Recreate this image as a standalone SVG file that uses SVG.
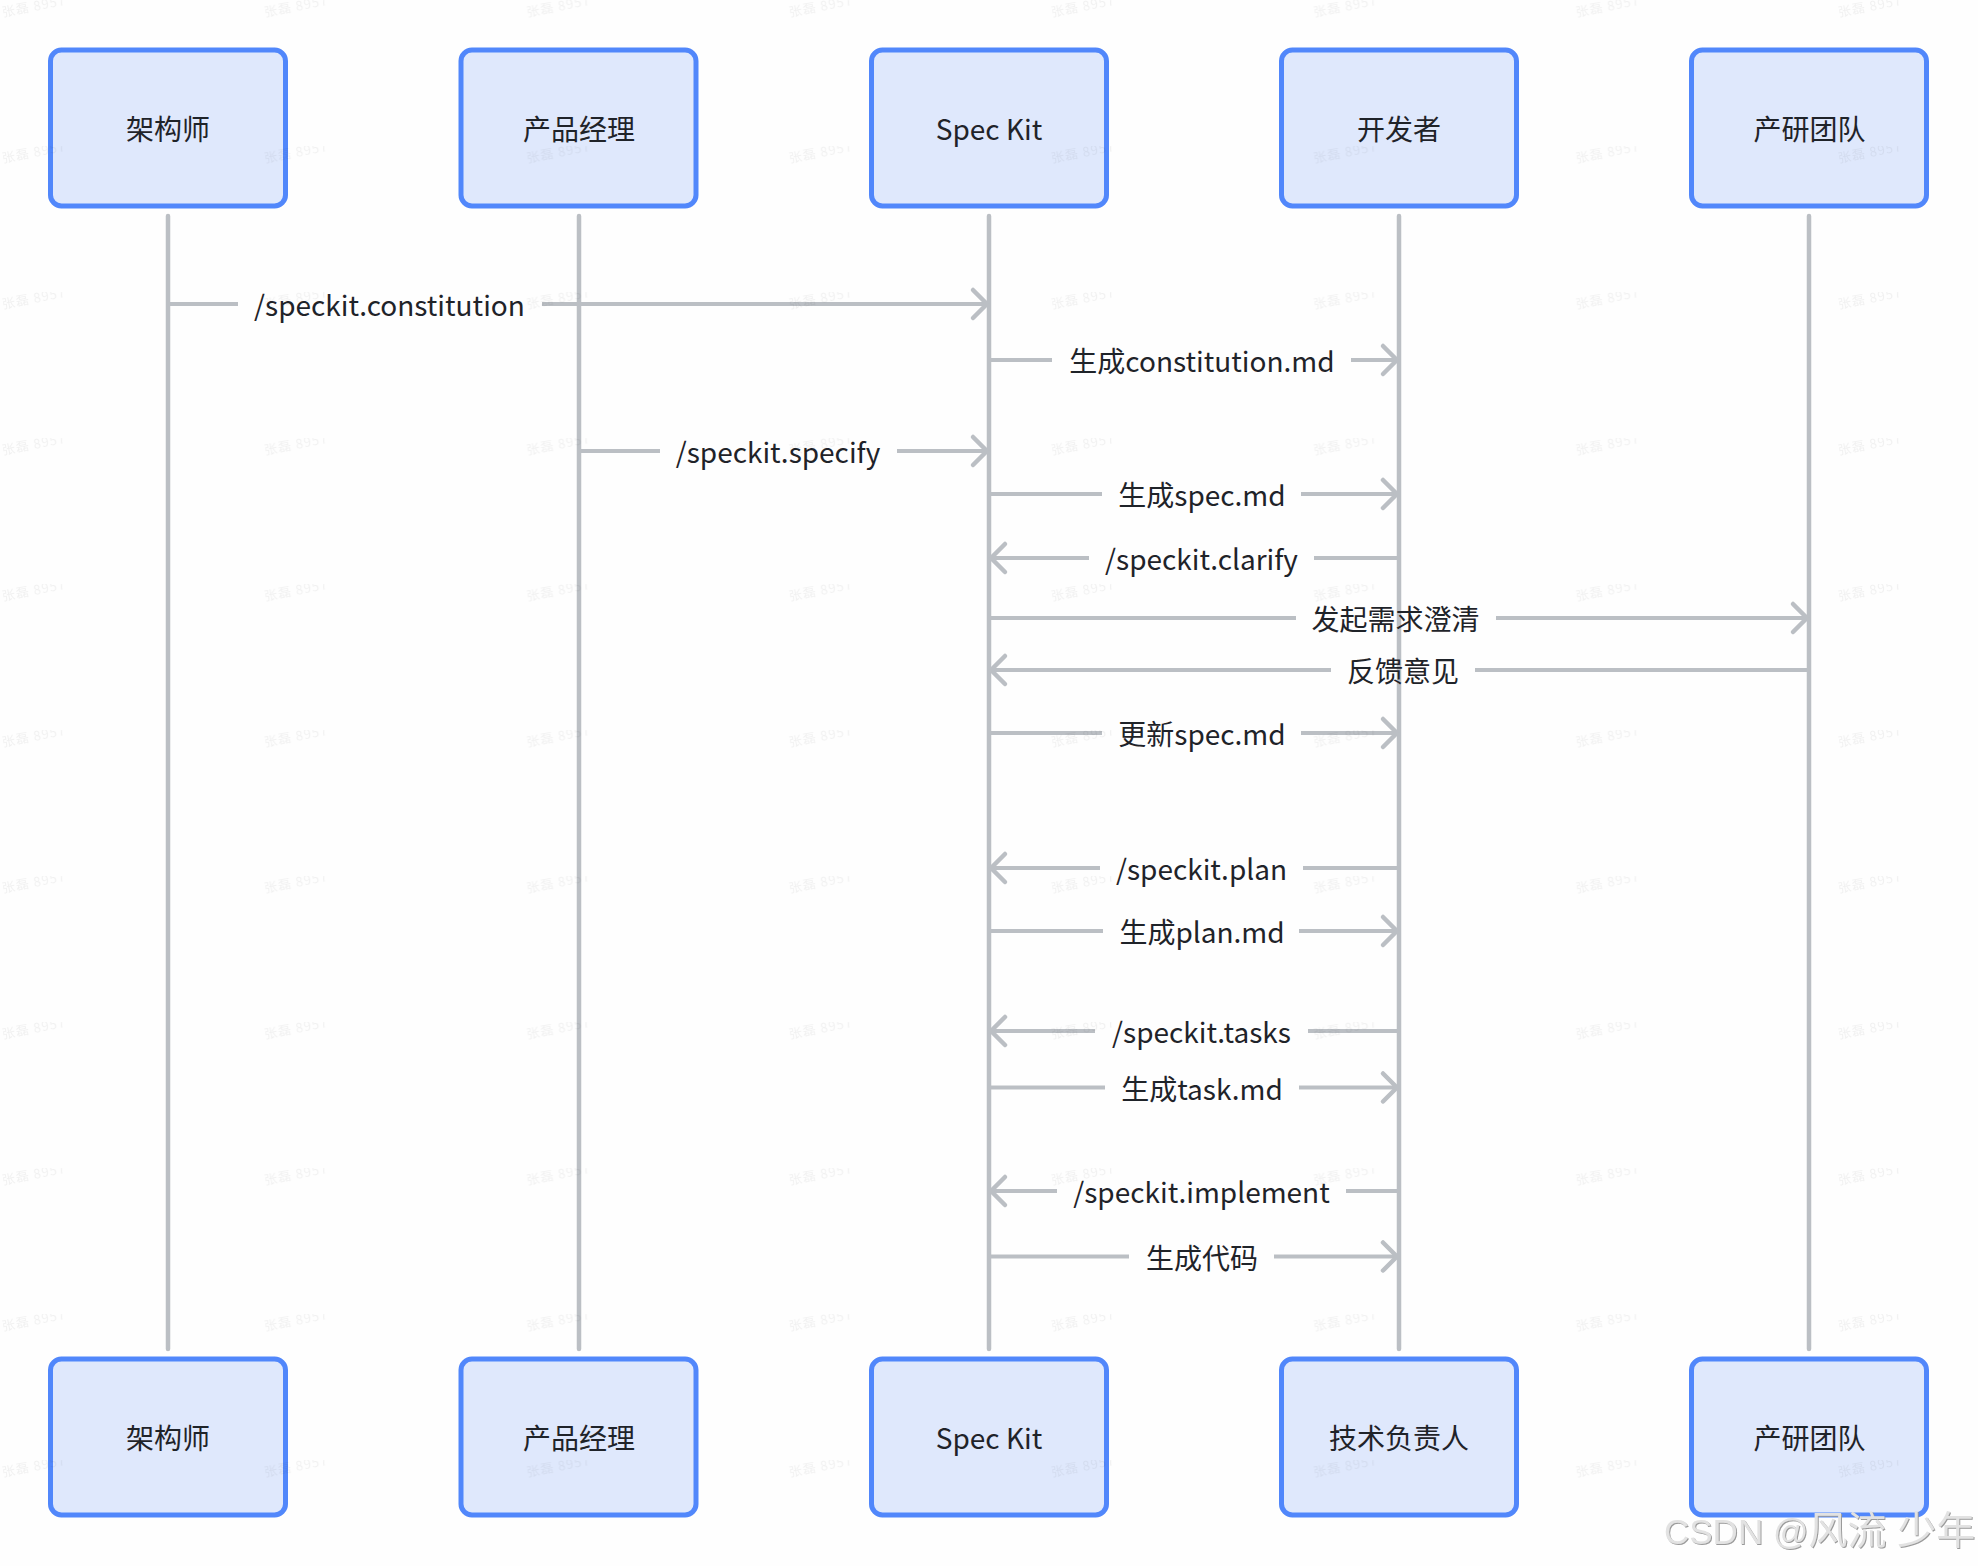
<svg xmlns="http://www.w3.org/2000/svg" width="1978" height="1566" viewBox="0 0 1978 1566">
<style>
text{font-family:"Noto Sans CJK SC","Noto Sans",sans-serif;}
.box{fill:#dfe8fc;stroke:#5187fb;stroke-width:5;}
.t{font-size:28px;fill:#1f2329;text-anchor:middle;}
.ll{stroke:#bbbfc4;stroke-width:4.5;stroke-linecap:round;fill:none;}
.m{stroke:#bbbfc4;stroke-width:4;fill:none;}
.wm{font-size:13px;letter-spacing:1px;fill:#000;fill-opacity:.05;}
.csdn{font-family:"Liberation Sans","Noto Sans CJK SC",sans-serif;font-size:35px;fill:#e2e2e2;filter:url(#sh);}
</style>
<defs>
<marker id="a" markerUnits="userSpaceOnUse" markerWidth="20" markerHeight="32" refX="19" refY="16" orient="auto" overflow="visible"><path d="M3 2L17 16L3 30" fill="none" stroke="#bbbfc4" stroke-width="4.5" stroke-linecap="round" stroke-linejoin="round"/></marker>
<pattern id="wmp" patternUnits="userSpaceOnUse" x="0" y="0" width="262.3" height="146"><text class="wm" transform="translate(3,17) rotate(-11)">张磊 8957</text></pattern>
<filter id="sh" x="-5%" y="-20%" width="110%" height="140%"><feDropShadow dx="1" dy="1" stdDeviation="0.6" flood-color="#9a9a9a"/></filter>
</defs>
<rect width="1978" height="1566" fill="#fefefe"/>
<g id="lifelines">
<path class="ll" d="M168 216V1349M579 216V1349M989 216V1349M1399 216V1349M1809 216V1349"/>
</g>
<g id="connectors">
<path class="m" d="M168 304H238"/><path class="m" d="M542 304H989" marker-end="url(#a)"/>
<path class="m" d="M989 360H1052"/><path class="m" d="M1351 360H1399" marker-end="url(#a)"/>
<path class="m" d="M579 451H660"/><path class="m" d="M897 451H989" marker-end="url(#a)"/>
<path class="m" d="M989 494H1102"/><path class="m" d="M1301 494H1399" marker-end="url(#a)"/>
<path class="m" d="M1399 558H1314"/><path class="m" d="M1089 558H989" marker-end="url(#a)"/>
<path class="m" d="M989 618H1296"/><path class="m" d="M1496 618H1809" marker-end="url(#a)"/>
<path class="m" d="M1809 670H1475"/><path class="m" d="M1331 670H989" marker-end="url(#a)"/>
<path class="m" d="M989 733H1102"/><path class="m" d="M1301 733H1399" marker-end="url(#a)"/>
<path class="m" d="M1399 868H1303"/><path class="m" d="M1100 868H989" marker-end="url(#a)"/>
<path class="m" d="M989 931H1103"/><path class="m" d="M1299 931H1399" marker-end="url(#a)"/>
<path class="m" d="M1399 1031H1308"/><path class="m" d="M1095 1031H989" marker-end="url(#a)"/>
<path class="m" d="M989 1087.5H1105"/><path class="m" d="M1299 1087.5H1399" marker-end="url(#a)"/>
<path class="m" d="M1399 1191H1346"/><path class="m" d="M1057 1191H989" marker-end="url(#a)"/>
<path class="m" d="M989 1256.5H1129"/><path class="m" d="M1274 1256.5H1399" marker-end="url(#a)"/>
</g>
<g id="labels">
<text class="t" x="389.5" y="316">/speckit.constitution</text>
<text class="t" x="1202" y="372">生成constitution.md</text>
<text class="t" x="778" y="463">/speckit.specify</text>
<text class="t" x="1202" y="506">生成spec.md</text>
<text class="t" x="1201.5" y="570">/speckit.clarify</text>
<text class="t" x="1395.5" y="630">发起需求澄清</text>
<text class="t" x="1403" y="682">反馈意见</text>
<text class="t" x="1202" y="744.5">更新spec.md</text>
<text class="t" x="1201.5" y="880">/speckit.plan</text>
<text class="t" x="1202" y="943">生成plan.md</text>
<text class="t" x="1201.5" y="1042.5">/speckit.tasks</text>
<text class="t" x="1202" y="1099.5">生成task.md</text>
<text class="t" x="1201.5" y="1202.5">/speckit.implement</text>
<text class="t" x="1202" y="1268.5">生成代码</text>
</g>
<g id="top-architect"><rect class="box" x="50.500" y="50" width="235" height="156" rx="11"/><text class="t" x="168" y="140">架构师</text></g>
<g id="top-pm"><rect class="box" x="461" y="50" width="235" height="156" rx="11"/><text class="t" x="579" y="140">产品经理</text></g>
<g id="top-speckit"><rect class="box" x="871.500" y="50" width="235" height="156" rx="11"/><text class="t" x="989" y="140">Spec Kit</text></g>
<g id="top-dev"><rect class="box" x="1281.500" y="50" width="235" height="156" rx="11"/><text class="t" x="1399" y="140">开发者</text></g>
<g id="top-team"><rect class="box" x="1691.500" y="50" width="235" height="156" rx="11"/><text class="t" x="1809.500" y="140">产研团队</text></g>
<g id="bottom-architect"><rect class="box" x="50.500" y="1359" width="235" height="156" rx="11"/><text class="t" x="168" y="1449">架构师</text></g>
<g id="bottom-pm"><rect class="box" x="461" y="1359" width="235" height="156" rx="11"/><text class="t" x="579" y="1449">产品经理</text></g>
<g id="bottom-speckit"><rect class="box" x="871.500" y="1359" width="235" height="156" rx="11"/><text class="t" x="989" y="1449">Spec Kit</text></g>
<g id="bottom-lead"><rect class="box" x="1281.500" y="1359" width="235" height="156" rx="11"/><text class="t" x="1399" y="1449">技术负责人</text></g>
<g id="bottom-team"><rect class="box" x="1691.500" y="1359" width="235" height="156" rx="11"/><text class="t" x="1809.500" y="1449">产研团队</text></g>
<rect id="watermark-tile" width="1978" height="1500" fill="url(#wmp)"/>
<text class="csdn" x="1664" y="1544">CSDN @<tspan font-size="39">风流 少年</tspan></text>
</svg>
